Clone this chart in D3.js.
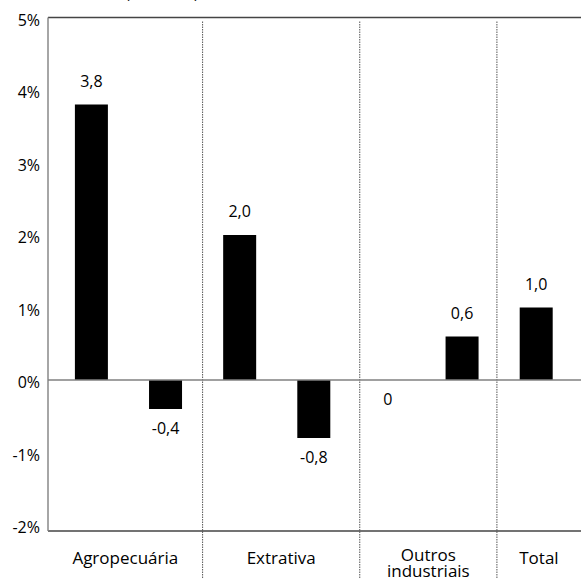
<!DOCTYPE html>
<html>
<head>
<meta charset="utf-8">
<script src="https://cdn.jsdelivr.net/npm/d3@7"></script>
<style>
  body { margin: 0; background: #fff; }
  text { font-family: "Open Sans", "Noto Sans", sans-serif; fill: #000; }
</style>
</head>
<body>
<div id="chart"></div>
<script>
// values
var categories = ["Agropecuária", "Extrativa", "Outros industriais", "Total"];
var barGroup   = [0, 0, 1, 1, 2, 2, 3];
var barValues  = [3.8, -0.4, 2.0, -0.8, 0, 0.6, 1.0];
var barLabels  = ["3,8", "-0,4", "2,0", "-0,8", "0", "0,6", "1,0"];
var yTicks     = [-2, -1, 0, 1, 2, 3, 4, 5];
// group dividers, in bar-slot units
var dividers   = [1.5, 3.62, 5.47];

renderChart();

function renderChart() {

var width = 581;
var height = 581;
var left = 48;

var svg = d3.select("#chart")
        .append("svg")
        .attr("width", width)
        .attr("height", height);

var y = d3.scaleLinear().domain([-2, 5]).range([525, 17.5]);
var x = d3.scaleLinear().domain([0, 6]).range([91.4, 536.2]);
var barW = 33;
var plotBottom = 531;

// cut-off subtitle at the very top
svg.append("text")
    .attr("x", 162)
    .attr("y", -2.5)
    .attr("text-anchor", "middle")
    .style("font-size", "15px")
    .text("(% ao ano)");

// dotted dividers between groups
svg.append("g")
    .selectAll("line")
    .data(dividers)
    .enter().append("line")
    .attr("x1", function(d) { return x(d); })
    .attr("x2", function(d) { return x(d); })
    .attr("y1", y(5) + 4)
    .attr("y2", height - 2)
    .attr("stroke", "#555")
    .attr("stroke-width", 1)
    .attr("stroke-dasharray", "1.5,1");

// bars
svg.append("g")
    .selectAll("rect")
    .data(barValues)
    .enter().append("rect")
    .attr("x", function(d, i) { return x(i) - barW / 2; })
    .attr("y", function(d) { return y(Math.max(0, d)); })
    .attr("width", barW)
    .attr("height", function(d) { return Math.abs(y(d) - y(0)); })
    .attr("fill", "#000");

// frame and zero line
svg.append("line")
    .attr("x1", left).attr("x2", width)
    .attr("y1", y(5)).attr("y2", y(5))
    .attr("stroke", "#444").attr("stroke-width", 1.6);
svg.append("line")
    .attr("x1", left).attr("x2", width)
    .attr("y1", plotBottom).attr("y2", plotBottom)
    .attr("stroke", "#444").attr("stroke-width", 1.4);
svg.append("line")
    .attr("x1", left).attr("x2", width)
    .attr("y1", y(0)).attr("y2", y(0))
    .attr("stroke", "#808080").attr("stroke-width", 1.4);
svg.append("line")
    .attr("x1", left).attr("x2", left)
    .attr("y1", y(5)).attr("y2", plotBottom)
    .attr("stroke", "#808080").attr("stroke-width", 1.4);

// y tick labels
svg.append("g")
    .selectAll("text")
    .data(yTicks)
    .enter().append("text")
    .attr("x", 40)
    .attr("y", function(d) { return y(d); })
    .attr("dy", "0.5em")
    .attr("text-anchor", "end")
    .style("font-size", "16px")
    .text(function(d) { return d + "%"; });

// value labels
svg.append("g")
    .selectAll("text")
    .data(barValues)
    .enter().append("text")
    .attr("x", function(d, i) { return x(i); })
    .attr("y", function(d) { return d > 0 ? y(d) - 18 : y(d) + 19; })
    .attr("dy", function(d) { return d > 0 ? 0 : "0.35em"; })
    .attr("text-anchor", "middle")
    .style("font-size", "16px")
    .text(function(d, i) { return barLabels[i]; });

// category labels, centred between dividers
var edges = [left].concat(dividers.map(function(d) { return x(d); }), [width]);
var cat = svg.append("g")
    .selectAll("text")
    .data(categories)
    .enter().append("text")
    .attr("x", function(d, i) { return (edges[i] + edges[i + 1]) / 2; })
    .attr("y", function(d) { return d.indexOf(" ") > 0 ? 561 : 564; })
    .attr("text-anchor", "middle")
    .style("font-size", "17px");

cat.each(function(d) {
    var words = d.split(" ");
    var t = d3.select(this);
    words.forEach(function(w, k) {
        t.append("tspan")
            .attr("x", t.attr("x"))
            .attr("dy", k === 0 ? 0 : 16)
            .text(w);
    });
});

}
</script>
</body>
</html>
